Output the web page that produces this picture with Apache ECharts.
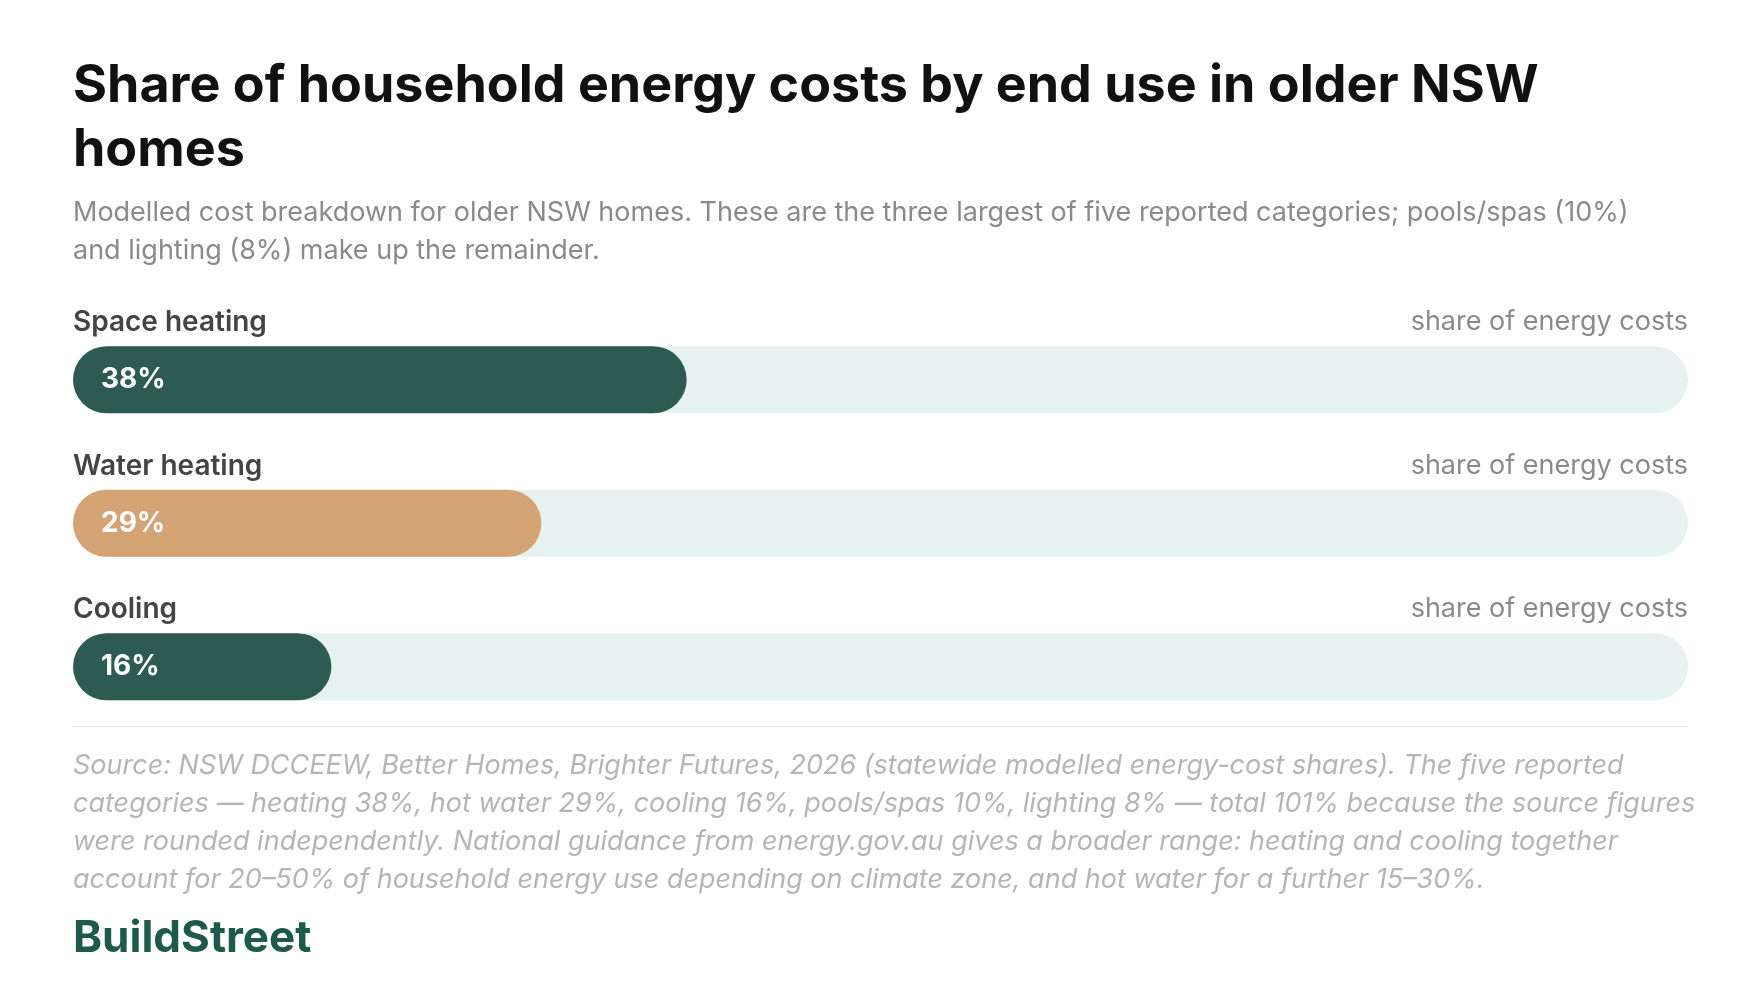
<!DOCTYPE html><html><head><meta charset="utf-8"><script src="https://cdn.jsdelivr.net/npm/echarts@6/dist/echarts.min.js"></script>
<style>html,body{margin:0;background:#fff}#c{width:1760px;height:1000px}</style></head><body><div id="c"></div><script>
const categories=['Space heating','Water heating','Cooling'];
const values=[38,29,16];
const colors=['#2d5b52','#d3a374','#2d5b52'];
const rightLabel='share of energy costs';
const title='Share of household energy costs by end use in older NSW\nhomes';
const subtitle='Modelled cost breakdown for older NSW homes. These are the three largest of five reported categories; pools/spas (10%)\nand lighting (8%) make up the remainder.';
const source='Source: NSW DCCEEW, Better Homes, Brighter Futures, 2026 (statewide modelled energy-cost shares). The five reported\ncategories — heating 38%, hot water 29%, cooling 16%, pools/spas 10%, lighting 8% — total 101% because the source figures\nwere rounded independently. National guidance from energy.gov.au gives a broader range: heating and cooling together\naccount for 20–50% of household energy use depending on climate zone, and hot water for a further 15–30%.';
const F='Inter, "Noto Sans", sans-serif';
const chart=echarts.init(document.getElementById('c'));
const gtop=308, band=143.5, R=72;
const graphics=[
 {type:'text',left:73,top:54,style:{text:title,font:'bold 52px '+F,fill:'#111',lineHeight:64}},
 {type:'text',left:73,top:194,style:{text:subtitle,font:'27px '+F,fill:'#8a8a8a',lineHeight:38}},
 {type:'rect',shape:{x:73,y:726,width:1760-73-R,height:1},style:{fill:'#e3e3e3'}},
 {type:'text',left:73,top:747,style:{text:source,font:'italic 27px '+F,fill:'#b5b5b5',lineHeight:38}},
 {type:'text',left:73,top:917,style:{text:'BuildStreet',font:'bold 44px '+F,fill:'#1d5a4b'}}
];
categories.forEach((c,i)=>{
 const y=gtop+band*i+band/2-33-38;
 graphics.push({type:'text',left:73,top:y,style:{text:c,font:'600 28px '+F,fill:'#444'}});
 graphics.push({type:'text',right:R,top:y,style:{text:rightLabel,font:'27px '+F,fill:'#8a8a8a'}});
});
chart.setOption({
 animation:false,
 grid:{left:73,right:R,top:gtop,height:band*3},
 xAxis:{type:'value',min:0,max:100,show:false},
 yAxis:{type:'category',data:categories,inverse:true,show:false},
 series:[{type:'bar',barWidth:67,data:values.map((v,i)=>({value:v,itemStyle:{color:colors[i]}})),
  showBackground:true,backgroundStyle:{color:'#e6f2ef',borderRadius:34},
  itemStyle:{borderRadius:34},
  label:{show:true,position:'insideLeft',distance:28,formatter:'{c}%',color:'#fff',fontFamily:F,fontWeight:'bold',fontSize:28}}],
 graphic:graphics
});
</script></body></html>
